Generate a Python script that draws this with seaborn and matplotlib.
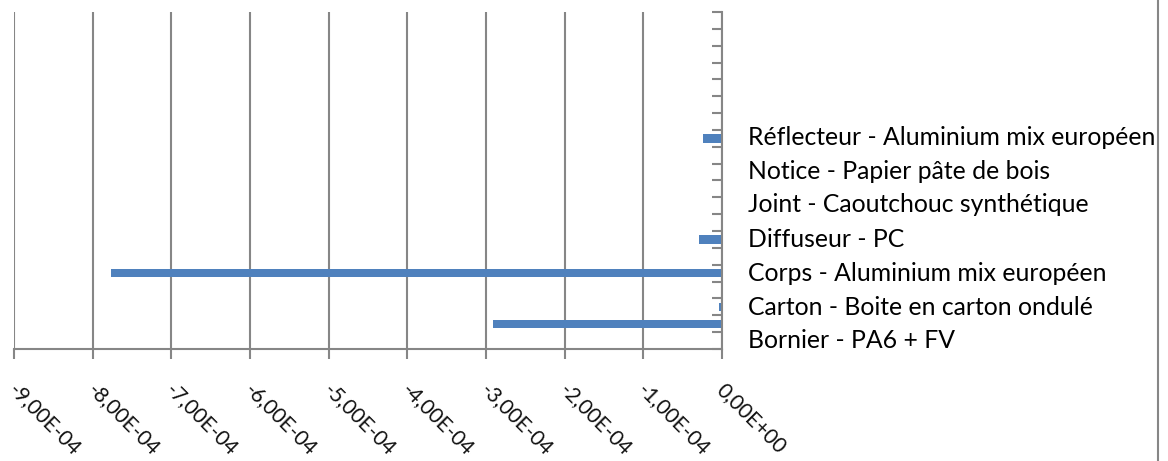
import numpy as np
import pandas as pd
import matplotlib.pyplot as plt
import seaborn as sns
from matplotlib.ticker import FuncFormatter
from matplotlib.lines import Line2D
from matplotlib.transforms import ScaledTranslation

# ==================================================
# DATA
# ==================================================

n_slots = 20
bar_slots = [7, 8, 13, 15, 16, 17, 18]
bar_values = [-2.45e-5, -1.6e-6, -2.9e-5, -7.77e-4, -1.2e-6, -3.8e-6, -2.91e-4]

labels = [
    "Réflecteur - Aluminium mix européen",
    "Notice - Papier pâte de bois",
    "Joint - Caoutchouc synthétique",
    "Diffuseur - PC",
    "Corps - Aluminium mix européen",
    "Carton - Boite en carton ondulé",
    "Bornier - PA6 + FV",
]

x_ticks = [-9e-4, -8e-4, -7e-4, -6e-4, -5e-4, -4e-4, -3e-4, -2e-4, -1e-4, 0.0]

values = np.zeros(n_slots)
values[bar_slots] = bar_values
df = pd.DataFrame({"slot": [f"s{i}" for i in range(n_slots)], "value": values})

# ==================================================
# PLOT
# ==================================================

sns.set_style("white")
plt.rcParams["font.family"] = ["Lato", "DejaVu Sans"]

grey = "#868686"

fig = plt.figure(figsize=(11.68, 4.61), dpi=100)
ax = fig.add_axes([14 / 1168, 1 - 349 / 461, 708 / 1168, 337 / 461])

sns.barplot(
    data=df,
    x="value",
    y="slot",
    orient="h",
    color="#4F81BD",
    saturation=1,
    width=0.5,
    linewidth=0,
    ax=ax,
)

ax.set_xlim(-9e-4, 0)
ax.set_ylim(n_slots - 0.5, -0.5)

ax.set_xticks(x_ticks)
ax.xaxis.set_major_formatter(
    FuncFormatter(lambda v, p: f"{v:.2E}".replace(".", ","))
)
ax.tick_params(axis="x", length=7, width=1.5, color=grey, labelsize=15, pad=15,
               bottom=True, labelcolor="#111111")
shift = ScaledTranslation(5 / 100, 0, fig.dpi_scale_trans)
for lab in ax.get_xticklabels():
    lab.set_rotation(-45)
    lab.set_rotation_mode("anchor")
    lab.set_ha("left")
    lab.set_va("top")
    lab.set_transform(lab.get_transform() + shift)

ax.grid(axis="x", color=grey, linewidth=1.5)
ax.set_axisbelow(True)

ax.set_yticks(np.arange(-0.5, n_slots, 1))
ax.set_yticklabels([])
ax.yaxis.set_ticks_position("right")
ax.tick_params(axis="y", direction="in", length=7, width=1.5, color=grey,
               right=True, left=False)

for s in ["top", "left"]:
    ax.spines[s].set_visible(False)
for s in ["bottom", "right"]:
    ax.spines[s].set_color(grey)
    ax.spines[s].set_linewidth(1.5)

ax.set_xlabel("")
ax.set_ylabel("")

# legend-like labels on the right
for i, lab in enumerate(labels):
    fig.text(748 / 1168, 1 - (137 + 34 * i) / 461, lab,
             ha="left", va="center", fontsize=17.8, color="black")

# outer frame line on the right
fig.add_artist(Line2D([1158 / 1168, 1158 / 1168], [0, 1], color=grey,
                      linewidth=1.5, transform=fig.transFigure))

fig.savefig("out.png", dpi=100)
